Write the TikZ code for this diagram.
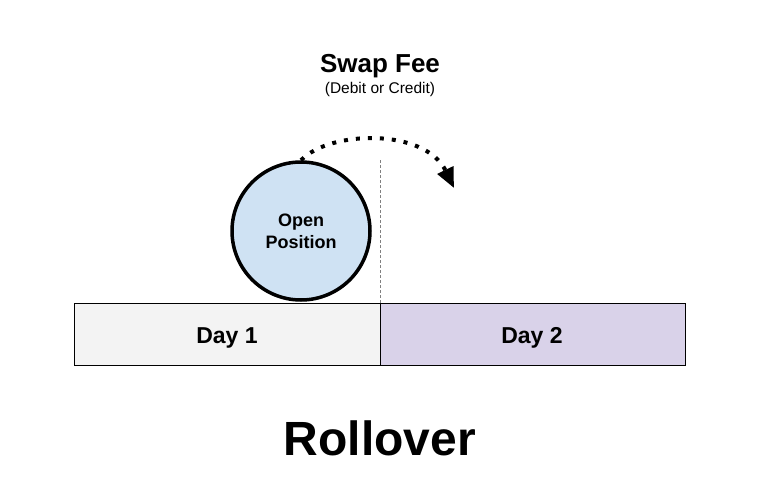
\documentclass[tikz,border=0pt]{standalone}
\usepackage{fontspec}
\setmainfont{Liberation Sans}
\usetikzlibrary{arrows.meta}
\usetikzlibrary{positioning}
\definecolor{dayone}{HTML}{F3F3F3}
\definecolor{daytwo}{HTML}{D9D2E9}
\definecolor{posblue}{HTML}{CFE2F3}
\tikzset{>=latex}
\tikzset{daybox/.style = {rectangle, draw=black, line width=1pt, outer sep=0, minimum height=62pt}}

\begin{document}
\begin{tikzpicture}[x=1pt, y=-1pt]
\useasboundingbox (0,0) rectangle (760,500);
\node [draw=none, anchor=base, font=\bfseries\fontsize{26}{30}\selectfont] (fee) at (380, 73) {Swap Fee};
\node [draw=none, anchor=base, font=\fontsize{15.5}{18}\selectfont] (fee2) at (380, 94) {(Debit or Credit)};
\node [daybox, fill=dayone, minimum width=306pt] (day1) at (227, 334) {};
\node [daybox, fill=daytwo, minimum width=305pt, anchor=west] (day2) at (day1.east) {};
\node [draw=none, anchor=base, font=\bfseries\fontsize{23}{26}\selectfont] (lab1) at (227, 343) {Day 1};
\node [draw=none, anchor=base, font=\bfseries\fontsize{23}{26}\selectfont] (lab2) at (532, 343) {Day 2};
\coordinate (dtop) at (380, 160);
\draw [gray, line width=0.6pt, dash pattern=on 3pt off 2pt] (dtop) to (day1.north east);
\node [circle, draw=black, line width=3.5pt, fill=posblue, minimum size=138pt, align=center, font=\bfseries\fontsize{18}{22}\selectfont] (pos) at (301, 231) {Open\\Position};
\coordinate (tip) at (454, 188);
\draw [-{Triangle[length=20pt, width=17pt]}, line width=4pt, dash pattern=on 4pt off 8pt] (pos.north) .. controls (330, 130) and (425, 128) .. (tip);
\node [draw=none, anchor=base, font=\bfseries\fontsize{48}{54}\selectfont] (title) at (380, 455) {Rollover};
\end{tikzpicture}
\end{document}
